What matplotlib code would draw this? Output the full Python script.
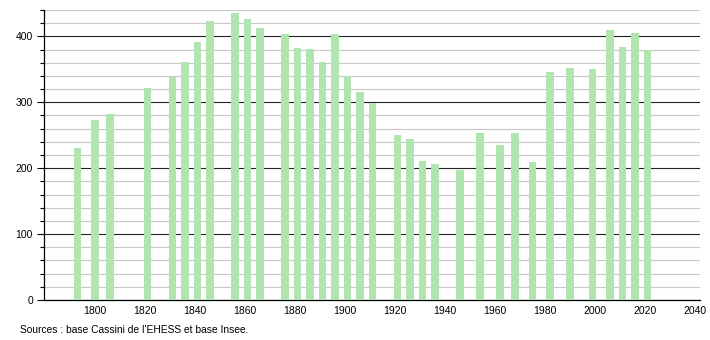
import matplotlib.pyplot as plt
from matplotlib.ticker import MultipleLocator

# census years and population
years = [1793, 1800, 1806, 1821, 1831, 1836, 1841, 1846, 1856, 1861, 1866,
         1876, 1881, 1886, 1891, 1896, 1901, 1906, 1911, 1921, 1926, 1931,
         1936, 1946, 1954, 1962, 1968, 1975, 1982, 1990, 1999, 2006, 2011,
         2016, 2021]
population = [230, 273, 282, 322, 339, 361, 392, 424, 436, 427, 412,
              403, 383, 381, 361, 404, 340, 316, 299, 251, 245, 211,
              207, 197, 253, 235, 253, 209, 346, 352, 350, 410, 384,
              405, 380]
x_ticks = [1800, 1820, 1840, 1860, 1880, 1900, 1920, 1940, 1960, 1980, 2000, 2020, 2040]
source = "Sources : base Cassini de l'EHESS et base Insee."

plt.rcParams["font.family"] = ["Liberation Sans", "DejaVu Sans"]

fig = plt.figure(figsize=(7.1, 3.4), dpi=100)
ax = fig.add_axes([0.062, 0.1176, 0.924, 0.853])

ax.bar(years, population, width=3, color="#b0e5b0", zorder=3)

ax.set_xlim(1779.7, 2042.1)
ax.set_ylim(0, 440)
ax.set_xticks(x_ticks)
ax.yaxis.set_major_locator(MultipleLocator(100))
ax.yaxis.set_minor_locator(MultipleLocator(20))

ax.grid(axis="y", which="minor", color="#c8c8c8", linewidth=0.8, zorder=1)
ax.grid(axis="y", which="major", color="#222222", linewidth=0.8, zorder=2)

for side in ["top", "right"]:
    ax.spines[side].set_visible(False)
ax.spines["left"].set_linewidth(0.9)
ax.spines["bottom"].set_linewidth(0.9)

ax.tick_params(axis="x", length=0, labelsize=7.5, pad=4)
ax.tick_params(axis="y", which="major", length=5, width=0.8, labelsize=7.5, pad=3)
ax.tick_params(axis="y", which="minor", length=3, width=0.8)

fig.text(0.028, 0.029, source, fontsize=7.4, ha="left", va="center")

fig.savefig("out.png", dpi=100)
